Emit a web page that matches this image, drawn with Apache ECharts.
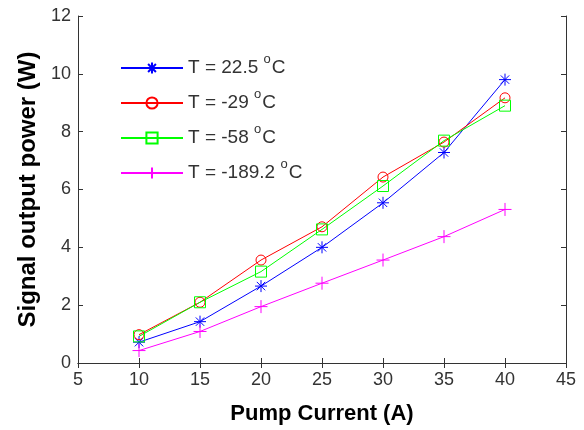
<!DOCTYPE html>
<html><head><meta charset="utf-8">
<script src="https://cdn.jsdelivr.net/npm/echarts@6/dist/echarts.min.js"></script>
<style>html,body{margin:0;padding:0;background:#fff}#c{width:584px;height:430px}</style>
</head><body><div id="c"></div>
<script>
const currents = [10, 15, 20, 25, 30, 35, 40];
const t22_5 = [0.72, 1.43, 2.66, 4.0, 5.54, 7.28, 9.8];
const tm29 = [0.98, 2.1, 3.56, 4.71, 6.43, 7.64, 9.17];
const tm58 = [0.92, 2.1, 3.16, 4.62, 6.12, 7.69, 8.9];
const tm189_2 = [0.43, 1.09, 1.95, 2.76, 3.56, 4.37, 5.31];
const seriesNames = ['T22', 'T29', 'T58', 'T189'];
const legendLabels = {
  T22: '{a|T = 22.5 }{s|o}{a|C}',
  T29: '{a|T = -29 }{s|o}{a|C}',
  T58: '{a|T = -58 }{s|o}{a|C}',
  T189: '{a|T = -189.2 }{s|o}{a|C}'
};
const font = 'Liberation Sans, Arial, sans-serif';
function pairs(v){ return currents.map((x,i)=>[x,v[i]]); }
function mk(name, data, color, symbol, size){
  return {
    name, type:'line', data: pairs(data), symbol, symbolSize: size,
    showSymbol:true,
    lineStyle:{color, width:1},
    itemStyle:{color:'none', borderColor:color, borderWidth:1},
    emphasis:{disabled:true}, animation:false, z: 3
  };
}
const chart = echarts.init(document.getElementById('c'));
chart.setOption({
  animation:false,
  grid:{left:78, right:18, top:16, bottom:67, containLabel:false},
  legend:{
    orient:'vertical', left:115, top:48, itemWidth:62, itemHeight:14, itemGap:5,
    data: seriesNames,
    formatter: n => legendLabels[n],
    textStyle:{
      lineHeight:22,
      rich:{
        a:{fontFamily:font, fontSize:19, color:'#333', lineHeight:22},
        s:{fontFamily:font, fontSize:13, color:'#333', lineHeight:5, padding:[0,1,17,0]}
      }
    }
  },
  xAxis:[{
    type:'value', min:5, max:45, interval:5,
    name:'Pump Current (A)', nameLocation:'middle', nameGap:40,
    nameTextStyle:{fontFamily:font, fontSize:22, fontWeight:'bold', color:'#000'},
    axisLine:{show:true, lineStyle:{color:'#333', width:1}},
    axisTick:{show:true, inside:true, length:5, lineStyle:{color:'#333'}},
    axisLabel:{fontFamily:font, fontSize:18, color:'#333', margin:8},
    splitLine:{show:false}
  },{
    type:'value', position:'top', min:5, max:45, interval:5,
    axisLine:{show:true, lineStyle:{color:'#333', width:1}},
    axisTick:{show:true, inside:true, length:5, lineStyle:{color:'#333'}},
    axisLabel:{show:false}, splitLine:{show:false}
  }],
  yAxis:[{
    type:'value', min:0, max:12, interval:2,
    name:'Signal output power (W)', nameLocation:'middle', nameGap:38, nameRotate:90,
    nameTextStyle:{fontFamily:font, fontSize:24, fontWeight:'bold', color:'#000'},
    axisLine:{show:true, lineStyle:{color:'#333', width:1}},
    axisTick:{show:true, inside:true, length:5, lineStyle:{color:'#333'}},
    axisLabel:{fontFamily:font, fontSize:18, color:'#333', margin:7},
    splitLine:{show:false}
  },{
    type:'value', position:'right', min:0, max:12, interval:2,
    axisLine:{show:true, lineStyle:{color:'#333', width:1}},
    axisTick:{show:true, inside:true, length:5, lineStyle:{color:'#333'}},
    axisLabel:{show:false}, splitLine:{show:false}
  }],
  series:[
    mk('T22', t22_5, '#0000ff', 'path://M0,-1L0,1M-1,0L1,0M-0.7,-0.7L0.7,0.7M-0.7,0.7L0.7,-0.7', 12),
    mk('T29', tm29, '#ff0000', 'circle', 10),
    mk('T58', tm58, '#00ff00', 'rect', 11),
    mk('T189', tm189_2, '#ff00ff', 'path://M0,-1L0,1M-1,0L1,0', 13)
  ]
});
</script></body></html>
